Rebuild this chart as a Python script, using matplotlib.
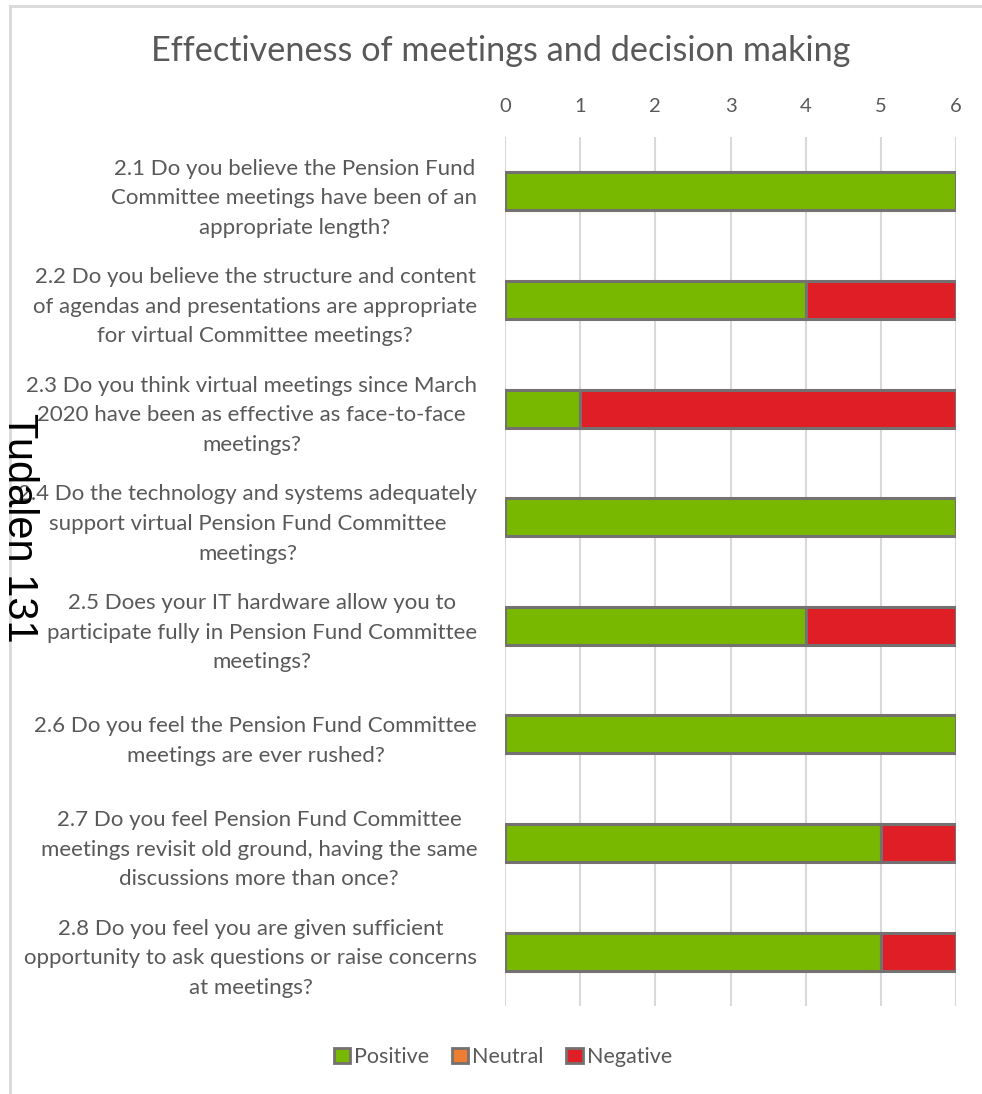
import matplotlib
matplotlib.use("Agg")
import matplotlib.pyplot as plt
from matplotlib.patches import Patch
import numpy as np

questions = [
    "2.1 Do you believe the Pension Fund\nCommittee meetings have been of an\nappropriate length?",
    "2.2 Do you believe the structure and content\nof agendas and presentations are appropriate\nfor virtual Committee meetings?",
    "2.3 Do you think virtual meetings since March\n2020 have been as effective as face-to-face\nmeetings?",
    "2.4 Do the technology and systems adequately\nsupport virtual Pension Fund Committee\nmeetings?",
    "2.5 Does your IT hardware allow you to\nparticipate fully in Pension Fund Committee\nmeetings?",
    "2.6 Do you feel the Pension Fund Committee\nmeetings are ever rushed?",
    "2.7 Do you feel Pension Fund Committee\nmeetings revisit old ground, having the same\ndiscussions more than once?",
    "2.8 Do you feel you are given sufficient\nopportunity to ask questions or raise concerns\nat meetings?",
]
positive = [6, 4, 1, 6, 4, 6, 5, 5]
neutral = [0, 0, 0, 0, 0, 0, 0, 0]
negative = [0, 2, 5, 0, 2, 0, 1, 1]
series_names = ["Positive", "Neutral", "Negative"]
xticks = [0, 1, 2, 3, 4, 5, 6]

colors = ["#78B800", "#ED7D31", "#E01E25"]
edge = "#767171"
txt = "#595959"
font = "Lato"

fig = plt.figure(figsize=(9.82, 10.94), dpi=100)
ax = fig.add_axes([505 / 982, 1 - 1006 / 1094, 451 / 982, 869 / 1094])

y = np.arange(len(questions))
left = np.zeros(len(questions))
for vals, c in zip([positive, neutral, negative], colors):
    v = np.array(vals, dtype=float)
    ax.barh(y, v, left=left, height=0.35, color=c, edgecolor=edge, linewidth=2.2, zorder=3)
    left += v

ax.set_xlim(0, 6)
ax.set_ylim(len(questions) - 0.5, -0.5)
ax.set_xticks(xticks)
ax.xaxis.tick_top()
ax.set_yticks(y)
ax.set_yticklabels(questions, multialignment="center", fontsize=16, color=txt, family=font, linespacing=1.6)
for lab in ax.get_xticklabels():
    lab.set_family(font)
ax.tick_params(axis="x", length=0, pad=16, labelsize=14.5, labelcolor=txt)
ax.tick_params(axis="y", length=0, pad=20)
ax.grid(axis="x", color="#D9D9D9", linewidth=1.5, zorder=0)
for s in ax.spines.values():
    s.set_visible(False)

fig.text(501 / 982, 1 - 51 / 1094, "Effectiveness of meetings and decision making",
         ha="center", va="center", fontsize=24.7, color=txt, family=font)

handles = [Patch(facecolor=c, edgecolor=edge, linewidth=2) for c in colors]
fig.legend(handles, series_names, loc="center", bbox_to_anchor=(503 / 982, 1 - 1057 / 1094),
           ncol=3, frameon=False, labelcolor=txt, prop={"family": font, "size": 15.5},
           handlelength=0.75, handleheight=0.75, handletextpad=0.2, columnspacing=1.05)

# outer chart frame
fig.add_artist(plt.Line2D([10 / 982, 10 / 982], [0, 1 - 6 / 1094], color="#D9D9D9", linewidth=2))
fig.add_artist(plt.Line2D([10 / 982, 1], [1 - 6 / 1094, 1 - 6 / 1094], color="#D9D9D9", linewidth=2))

fig.text(19 / 982, 1 - 528 / 1094, "Tudalen 131", rotation=270, ha="center", va="center",
         fontsize=30, color="black", family="Liberation Sans")

fig.savefig("out.png", dpi=100)
